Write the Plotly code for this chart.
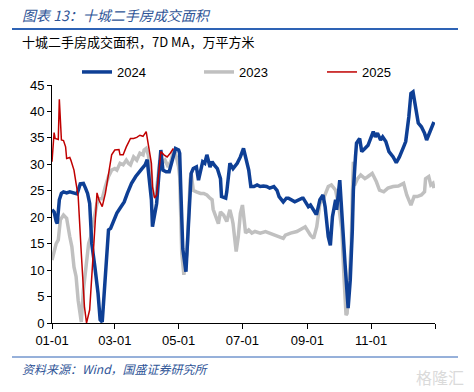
import pandas as pd
import plotly.graph_objects as go

# ---- data (day offset from 01-01, value in 万平方米, 7D MA) ----
days_2024 = [0, 2, 4, 5, 7, 9, 11, 14, 17, 21, 24, 27, 30, 32, 34, 36, 38, 41, 44, 46, 48, 49, 51, 53, 54, 56,
             59, 62, 65, 69, 72, 76, 80, 83, 86, 89, 91, 92, 95, 96, 98, 100, 102, 104, 106, 109, 112, 116, 118,
             121, 122, 123, 125, 128, 131, 133, 135, 138, 140, 142, 144, 146, 148, 151, 153, 155, 158, 161, 162,
             166, 167, 170, 173, 177, 180, 183, 186, 188, 190, 193, 196, 199, 202, 205, 208, 212, 215, 217, 221,
             224, 226, 229, 232, 239, 240, 245, 247, 252, 253, 256, 259, 261, 264, 266, 268, 271, 272, 275, 277,
             280, 283, 285, 287, 288, 290, 291, 294, 296, 299, 302, 307, 309, 311, 314, 316, 319, 322, 326, 329,
             332, 336, 338, 341, 343, 345, 348, 350, 353, 356, 358, 361, 363, 365]
vals_2024 = [21.4, 21.0, 19.2, 18.8, 23.3, 24.5, 24.8, 24.6, 24.8, 24.6, 24.4, 26.3, 26.4, 25.5, 24.5, 22.6, 15.0,
             10.6, 5.6, 0.6, 0.2, 3.1, 8.8, 13.8, 17.6, 17.9, 19.6, 20.8, 21.7, 22.9, 24.5, 26.4, 27.7, 28.6, 29.2,
             29.9, 30.9, 28.9, 23.3, 18.2, 20.1, 22.6, 27.7, 32.7, 28.9, 28.6, 28.6, 31.4, 33.0, 32.7, 32.1, 25.8,
             14.0, 9.7, 22.0, 28.3, 29.2, 29.5, 27.0, 28.9, 30.5, 30.2, 31.8, 29.5, 30.5, 29.9, 29.2, 27.3, 23.9,
             23.6, 24.8, 30.2, 29.2, 30.2, 31.4, 33.0, 30.8, 28.9, 25.8, 25.8, 26.1, 25.8, 25.9, 25.8, 25.5, 25.8,
             25.1, 23.9, 22.9, 23.6, 23.6, 23.3, 22.9, 23.6, 23.6, 22.0, 22.3, 20.7, 20.7, 23.3, 24.2, 22.0, 16.3,
             14.7, 20.1, 23.3, 21.4, 27.0, 19.5, 11.3, 2.8, 8.1, 17.6, 25.1, 31.4, 34.0, 34.9, 32.4, 33.0, 33.6,
             36.2, 35.2, 35.9, 34.6, 35.2, 34.3, 32.4, 31.4, 30.3, 31.4, 33.3, 34.3, 39.0, 43.4, 43.7, 39.6, 37.8,
             37.1, 35.9, 34.6, 35.9, 37.1, 38.0]

days_2023 = [0, 2, 4, 6, 8, 11, 14, 17, 19, 21, 23, 25, 27, 28, 30, 33, 35, 37, 38, 40, 43, 45, 48, 51, 54, 57,
             60, 62, 65, 68, 71, 73, 75, 78, 81, 84, 87, 88, 90, 92, 95, 96, 99, 101, 103, 105, 108, 111, 114, 116,
             118, 121, 122, 124, 125, 126, 129, 130, 132, 133, 135, 138, 142, 145, 148, 151, 153, 154, 157, 159,
             161, 164, 167, 170, 172, 173, 176, 178, 180, 182, 184, 185, 188, 191, 194, 199, 204, 208, 213, 218,
             221, 223, 228, 234, 239, 242, 247, 250, 253, 256, 259, 264, 267, 271, 274, 277, 279, 281, 282, 284,
             286, 287, 288, 289, 292, 295, 299, 302, 306, 310, 313, 317, 321, 326, 331, 336, 339, 343, 346, 349,
             353, 356, 357, 360, 362, 364, 365]
vals_2023 = [11.9, 13.2, 15.0, 15.7, 19.5, 20.4, 19.8, 16.3, 14.4, 10.6, 8.8, 4.3, 0.6, 0.2, 6.2, 11.3, 15.0,
             16.3, 17.9, 19.5, 22.6, 23.5, 23.5, 25.8, 27.7, 28.9, 29.2, 28.9, 30.2, 29.9, 30.8, 30.2, 29.9, 31.4,
             30.8, 32.1, 31.8, 32.7, 33.0, 31.8, 27.7, 24.5, 23.9, 27.0, 30.8, 30.2, 30.8, 29.5, 30.8, 32.7, 32.1,
             29.5, 27.7, 13.2, 9.7, 9.1, 13.2, 18.2, 27.0, 28.3, 25.1, 24.8, 24.5, 24.5, 24.2, 23.6, 23.3, 21.5,
             20.1, 18.8, 21.0, 20.4, 19.2, 21.4, 19.8, 18.8, 13.5, 16.3, 20.7, 22.3, 18.8, 17.0, 17.6, 17.0, 17.3,
             17.0, 17.3, 17.0, 16.6, 16.3, 16.0, 16.6, 17.0, 17.3, 17.9, 18.2, 16.6, 16.0, 18.2, 22.6, 23.3, 25.8,
             26.1, 25.1, 22.0, 17.6, 8.8, 1.5, 1.8, 8.1, 15.0, 24.0, 30.5, 26.0, 27.3, 28.0, 27.3, 27.7, 28.3, 26.7,
             25.1, 24.8, 25.5, 25.8, 25.9, 26.4, 24.2, 22.3, 23.9, 23.9, 24.2, 24.8, 27.3, 27.7, 26.1, 26.4, 25.5]

days_2025 = [0, 2, 3, 6, 7, 9, 11, 13, 14, 17, 18, 21, 23, 25, 28, 31, 33, 36, 40, 41, 43, 45, 48, 51, 54, 57,
             60, 64, 65, 68, 71, 75, 78, 81, 84, 87, 90, 92, 95, 96, 98, 100, 102, 104, 107, 110, 113, 116]
vals_2025 = [30.5, 36.0, 34.9, 34.7, 42.3, 34.6, 34.5, 33.3, 31.1, 31.3, 30.8, 28.9, 26.4, 24.0, 13.2, 3.1, 0.0,
             2.5, 15.0, 18.9, 24.6, 23.2, 22.0, 24.5, 28.3, 31.8, 32.7, 32.8, 31.8, 31.8, 33.3, 34.9, 34.9, 35.1,
             35.5, 35.3, 36.2, 34.0, 30.2, 25.8, 23.6, 24.2, 27.7, 32.4, 31.8, 31.4, 32.1, 33.0]

tick_dates = ["2024-01-01", "2024-03-01", "2024-05-01", "2024-07-01", "2024-09-01", "2024-11-01", "2025-01-01"]
tick_labels = ["01-01", "03-01", "05-01", "07-01", "09-01", "11-01", ""]

base = pd.Timestamp("2024-01-01")


def to_dates(days):
    return [base + pd.Timedelta(days=d) for d in days]


BLUE = "#0E3F95"
GRAY = "#C0C0C0"
RED = "#C00000"
HEAD = "#2F5597"
FONT = "Liberation Sans, Arial, sans-serif"
CJK = "Noto Sans CJK SC"

fig = go.Figure()
fig.add_trace(go.Scatter(x=to_dates(days_2023), y=vals_2023, mode="lines", name="2023",
                         line=dict(color=GRAY, width=3.5), legend="legend2"))
fig.add_trace(go.Scatter(x=to_dates(days_2024), y=vals_2024, mode="lines", name="2024",
                         line=dict(color=BLUE, width=3.5), legend="legend"))
fig.add_trace(go.Scatter(x=to_dates(days_2025), y=vals_2025, mode="lines", name="2025",
                         line=dict(color=RED, width=1.5), legend="legend3"))

L, R, T, B = 52, 39, 85, 69
W, H = 474, 392
pw, ph = W - L - R, H - T - B


def px(xp):
    return (xp - L) / pw


def py(yp):
    return (H - B - yp) / ph


leg_common = dict(orientation="h", yanchor="middle", xanchor="left", bgcolor="rgba(0,0,0,0)",
                  font=dict(family=FONT, size=13, color="#000"), itemwidth=30)

fig.update_layout(
    width=W, height=H,
    margin=dict(l=L, r=R, t=T, b=B),
    paper_bgcolor="white", plot_bgcolor="white",
    showlegend=True,
    legend=dict(x=px(77), y=py(72), **leg_common),
    legend2=dict(x=px(199), y=py(72), **leg_common),
    legend3=dict(x=px(322), y=py(72), **leg_common),
    xaxis=dict(type="date", range=["2024-01-01", "2025-01-01"], tickvals=tick_dates, ticktext=tick_labels,
               showline=True, linecolor="#000", linewidth=1, ticks="outside", ticklen=5, tickcolor="#000",
               showgrid=False, zeroline=False, tickfont=dict(family=FONT, size=13, color="#000")),
    yaxis=dict(range=[0, 45], dtick=5, showline=True, linecolor="#000", linewidth=1, ticks="outside",
               ticklen=4, tickcolor="#000", showgrid=False, zeroline=False,
               tickfont=dict(family=FONT, size=13, color="#000")),
    shapes=[
        dict(type="line", xref="paper", yref="paper", x0=px(12), x1=px(458), y0=py(29), y1=py(29),
             line=dict(color="#2E63B5", width=2)),
        dict(type="line", xref="paper", yref="paper", x0=px(12), x1=px(458), y0=py(357), y1=py(357),
             line=dict(color="#2E63B5", width=1)),
    ],
    annotations=[
        dict(text="图表 13：十城二手房成交面积", xref="paper", yref="paper", x=px(20), y=py(15),
             xanchor="left", yanchor="middle", showarrow=False,
             font=dict(family=CJK, size=14, color=HEAD, style="italic")),
        dict(text="十城二手房成交面积，7D MA，万平方米", xref="paper", yref="paper", x=px(20), y=py(41),
             xanchor="left", yanchor="middle", showarrow=False,
             font=dict(family=CJK, size=13, color="#000")),
        dict(text="资料来源：Wind，国盛证券研究所", xref="paper", yref="paper", x=px(20), y=py(368),
             xanchor="left", yanchor="middle", showarrow=False,
             font=dict(family=CJK, size=12, color=HEAD, style="italic")),
        dict(text="格隆汇", xref="paper", yref="paper", x=px(466), y=py(377),
             xanchor="right", yanchor="middle", showarrow=False,
             font=dict(family=CJK, size=16, color="#DADADA")),
    ],
)

fig.write_html("out.html", config={"displayModeBar": False},
               post_script="document.body.style.margin='0';document.body.style.padding='0';")
